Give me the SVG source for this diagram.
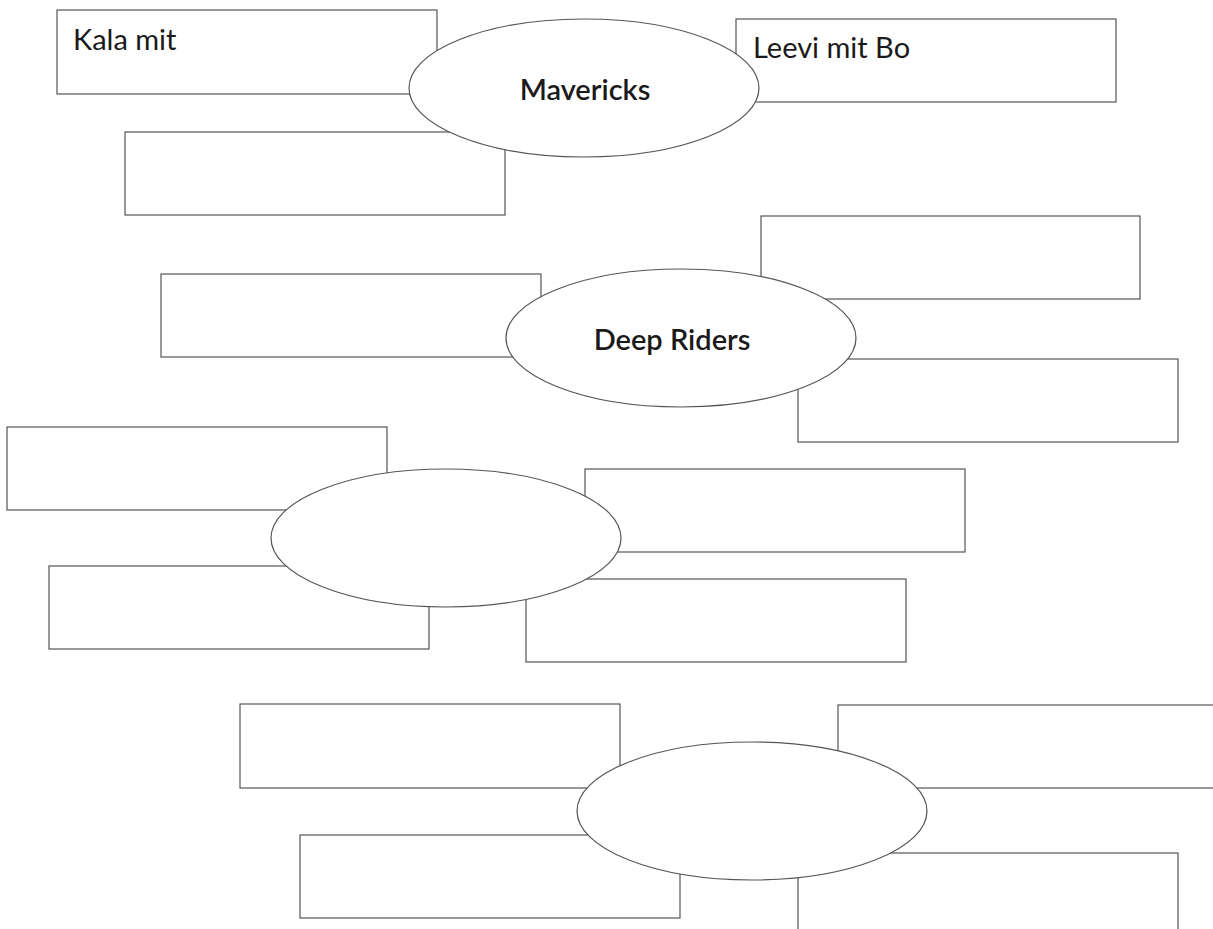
<svg xmlns="http://www.w3.org/2000/svg" width="1213" height="929" viewBox="0 0 1213 929">
<style>
.b{fill:#fff;stroke:#555;stroke-width:1.2}
.e{fill:#fff;stroke:#555;stroke-width:1.2}
.t{font-family:Lato,"Noto Sans",sans-serif;font-size:29px;fill:#1a1a1a}
.h{font-family:Lato,"Noto Sans",sans-serif;font-size:29px;font-weight:600;fill:#1a1a1a;text-anchor:middle}
</style>
<rect width="1213" height="929" fill="#fff"/>
<g id="connectors"/>
<g id="box1"><rect class="b" x="57" y="10" width="380" height="84"/><text class="t" x="73" y="50">Kala mit</text></g>
<g id="box2"><rect class="b" x="125" y="132" width="380" height="83"/></g>
<g id="box3"><rect class="b" x="736" y="19" width="380" height="83"/><text class="t" x="753" y="58">Leevi mit Bo</text></g>
<g id="ellipse1"><ellipse class="e" cx="584" cy="88" rx="175" ry="69"/><text class="h" x="585" y="100">Mavericks</text></g>

<g id="box4"><rect class="b" x="161" y="274" width="380" height="83"/></g>
<g id="box5"><rect class="b" x="761" y="216" width="379" height="83"/></g>
<g id="box6"><rect class="b" x="798" y="359" width="380" height="83"/></g>
<g id="ellipse2"><ellipse class="e" cx="681" cy="338" rx="175" ry="69"/><text class="h" x="672" y="350">Deep Riders</text></g>

<g id="box7"><rect class="b" x="7" y="427" width="380" height="83"/></g>
<g id="box8"><rect class="b" x="585" y="469" width="380" height="83"/></g>
<g id="box9"><rect class="b" x="49" y="566" width="380" height="83"/></g>
<g id="box10"><rect class="b" x="526" y="579" width="380" height="83"/></g>
<g id="ellipse3"><ellipse class="e" cx="446" cy="538" rx="175" ry="69"/></g>

<g id="box11"><rect class="b" x="240" y="704" width="380" height="84"/></g>
<g id="box12"><rect class="b" x="838" y="705" width="400" height="83"/></g>
<g id="box13"><rect class="b" x="300" y="835" width="380" height="83"/></g>
<g id="box14"><rect class="b" x="798" y="853" width="380" height="100"/></g>
<g id="ellipse4"><ellipse class="e" cx="752" cy="811" rx="175" ry="69"/></g>
</svg>
